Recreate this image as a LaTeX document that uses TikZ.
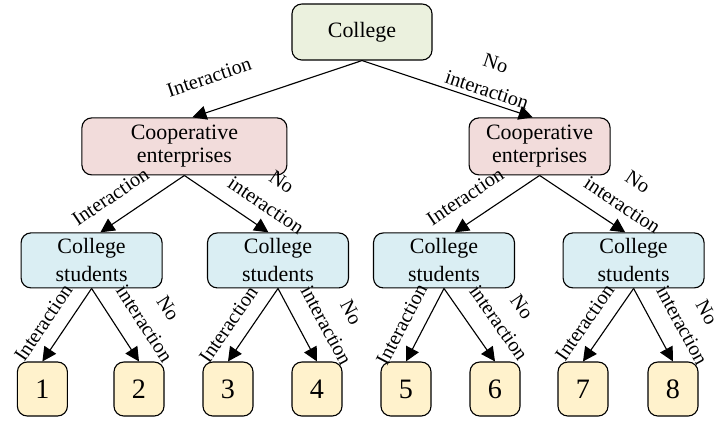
\documentclass[tikz,border=0pt]{standalone}
\usepackage{fontspec}
\setmainfont{Liberation Serif}
\usetikzlibrary{arrows.meta,calc}
\definecolor{topgreen}{HTML}{EBF1DE}
\definecolor{firmpink}{HTML}{F2DCDB}
\definecolor{studblue}{HTML}{DAEEF3}
\definecolor{leafyellow}{HTML}{FFF2CC}

\begin{document}
\begin{tikzpicture}[line width=0.8pt,>={Triangle[length=10pt,width=10pt]},
  box/.style={draw,rounded corners=7pt,align=center,inner sep=0pt,
    font=\fontsize{15.6}{16.3}\selectfont},
  lab/.style={sloped,align=center,inner sep=0pt,font=\fontsize{14.4}{20}\selectfont}]
\useasboundingbox (0,0) rectangle (17.95,-10.525);
% ================= boxes =================
\node[box,fill=topgreen,minimum width=3.5cm,minimum height=1.4cm] (college) at (9.05,-0.8) {College};
\node[box,fill=firmpink,minimum width=5.125cm,minimum height=1.425cm] (coopL) at (4.61,-3.66) {Cooperative\\enterprises};
\node[box,fill=firmpink,minimum width=3.525cm,minimum height=1.425cm] (coopR) at (13.49,-3.66) {Cooperative\\enterprises};
% ---------- students ----------
\node[box,fill=studblue,minimum width=3.525cm,minimum height=1.375cm,font=\fontsize{15.6}{20}\selectfont] (stuA) at (2.29,-6.51) {College\\students};
\node[box,fill=studblue,minimum width=3.525cm,minimum height=1.375cm,font=\fontsize{15.6}{20}\selectfont] (stuB) at (6.95,-6.51) {College\\students};
\node[box,fill=studblue,minimum width=3.525cm,minimum height=1.375cm,font=\fontsize{15.6}{20}\selectfont] (stuC) at (11.1,-6.51) {College\\students};
\node[box,fill=studblue,minimum width=3.525cm,minimum height=1.375cm,font=\fontsize{15.6}{20}\selectfont] (stuD) at (15.84,-6.51) {College\\students};
% ---------- outcomes ----------
\foreach \n/\x in {1/1.06,2/3.475,3/5.7,4/7.925,5/10.15,6/12.375,7/14.575,8/16.825}{
  \node[box,fill=leafyellow,minimum width=1.25cm,minimum height=1.35cm,font=\fontsize{20}{20}\selectfont] (leaf\n) at (\x,-9.725) {\n};}
% ================= arrows =================
\draw[->] (college.south) -- ($(coopL.north)+(0.2,0)$)
  node[lab,pos=0.84,yshift=0.82cm] {Interaction};
\draw[->] (college.south) -- ($(coopR.north)+(-0.17,0)$)
  node[lab,pos=0.71,yshift=0.64cm] {No\\interaction};
\draw[->] (coopL.south) -- ($(stuA.north)+(0.22,0)$)
  node[lab,pos=0.72,yshift=0.6cm] {Interaction};
\draw[->] (coopL.south) -- ($(stuB.north)+(-0.24,0)$)
  node[lab,pos=0.83,yshift=0.88cm] {No\\interaction};
\draw[->] (coopR.south) -- ($(stuC.north)+(0.27,0)$)
  node[lab,pos=0.72,yshift=0.6cm] {Interaction};
\draw[->] (coopR.south) -- ($(stuD.north)+(-0.21,0)$)
  node[lab,pos=0.83,yshift=0.88cm] {No\\interaction};
% ---------- students to outcomes ----------
\draw[->] (stuA.south) -- (leaf1.north) node[lab,pos=0.63,yshift=0.52cm] {Interaction};
\draw[->] (stuA.south) -- (leaf2.north) node[lab,pos=0.67,yshift=0.98cm] {No\\interaction};
\draw[->] (stuB.south) -- (leaf3.north) node[lab,pos=0.65,yshift=0.52cm] {Interaction};
\draw[->] (stuB.south) -- (leaf4.north) node[lab,pos=0.67,yshift=0.98cm] {No\\interaction};
\draw[->] (stuC.south) -- (leaf5.north) node[lab,pos=0.63,yshift=0.52cm] {Interaction};
\draw[->] (stuC.south) -- (leaf6.north) node[lab,pos=0.67,yshift=0.98cm] {No\\interaction};
\draw[->] (stuD.south) -- (leaf7.north) node[lab,pos=0.63,yshift=0.52cm] {Interaction};
\draw[->] (stuD.south) -- (leaf8.north) node[lab,pos=0.67,yshift=0.98cm] {No\\interaction};
\end{tikzpicture}
\end{document}
